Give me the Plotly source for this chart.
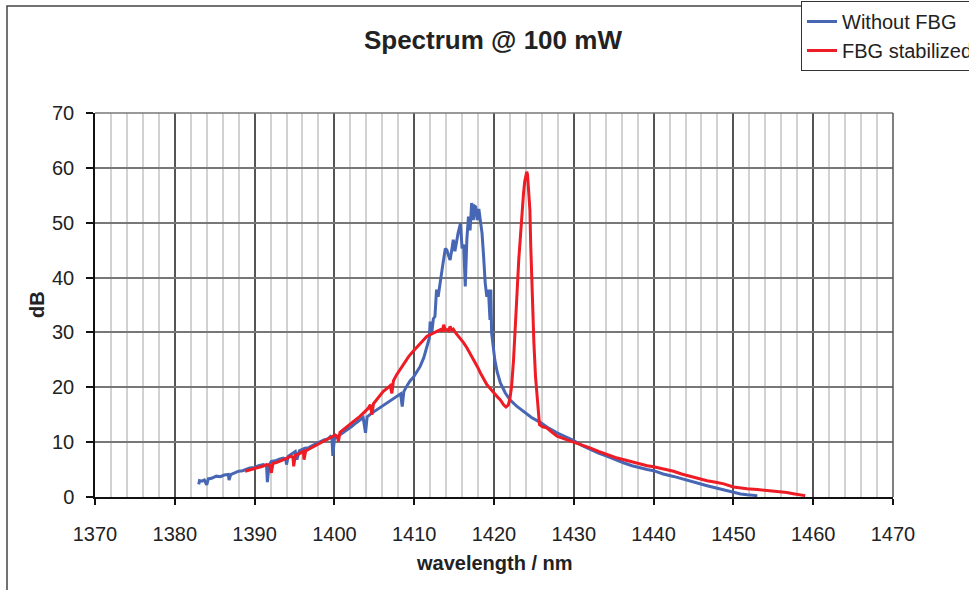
import plotly.graph_objects as go

# Emission spectrum at 100 mW, free-running vs. FBG-stabilized
blue_wl = [1383.0, 1383.1, 1383.4, 1383.7, 1384.0, 1384.2, 1384.6, 1385.2, 1385.7, 1386.2,
           1386.7, 1386.8, 1387.0, 1387.5, 1388.0, 1388.5, 1389.0, 1389.4, 1390.0, 1390.5,
           1391.1, 1391.5, 1391.6, 1391.8, 1392.1, 1392.6, 1393.1, 1393.6, 1393.9, 1394.0,
           1394.2, 1394.6, 1395.1, 1395.3, 1395.6, 1396.3, 1396.8, 1397.3, 1397.8, 1398.2,
           1398.7, 1399.2, 1399.5, 1399.7, 1399.8, 1400.0, 1400.4, 1401.0, 1401.6, 1402.2,
           1402.7, 1403.2, 1403.6, 1403.9, 1404.1, 1404.6, 1405.1, 1405.7, 1406.3, 1406.9,
           1407.4, 1407.9, 1408.3, 1408.5, 1408.7, 1409.1, 1409.5, 1409.9, 1410.3, 1410.75,
           1411.2, 1411.6, 1411.9, 1412.0, 1412.2, 1412.4, 1412.6, 1412.8, 1413.0, 1413.2,
           1413.4, 1413.6, 1413.9, 1414.1, 1414.3, 1414.5, 1414.7, 1414.9, 1415.1, 1415.3,
           1415.5, 1415.8, 1416.0, 1416.2, 1416.4, 1416.6, 1416.8, 1417.0, 1417.2, 1417.4,
           1417.6, 1417.7, 1417.9, 1418.1, 1418.3, 1418.5, 1418.7, 1418.9, 1419.1, 1419.3,
           1419.5, 1419.6, 1419.7, 1419.9, 1420.1, 1420.4, 1420.8, 1421.4, 1422.0, 1422.8,
           1423.7, 1424.7, 1425.8, 1426.8, 1427.9, 1429.0, 1430.0, 1431.0, 1432.1, 1433.1,
           1434.2, 1435.2, 1436.3, 1437.3, 1438.3, 1439.2, 1440.0, 1441.2, 1442.5, 1443.5,
           1444.6, 1445.7, 1446.7, 1447.8, 1448.8, 1450.0, 1450.9, 1451.7, 1452.5, 1453.0]
blue_db = [2.3, 3.0, 2.9, 3.1, 2.2, 3.3, 3.4, 3.8, 3.7, 4.0,
           4.1, 3.1, 4.1, 4.4, 4.7, 4.8, 5.1, 5.3, 5.4, 5.7,
           5.9, 5.6, 2.7, 5.8, 6.5, 6.6, 6.9, 7.1, 6.9, 5.9,
           7.4, 7.8, 8.3, 6.8, 8.4, 8.9, 9.0, 9.4, 9.8, 10.1,
           10.4, 10.6, 11.0, 10.5, 7.5, 10.6, 11.0, 11.6, 12.3, 12.9,
           13.5, 14.1, 14.5, 11.7, 14.6, 15.2, 15.7, 16.2, 16.8, 17.4,
           18.0, 18.4, 18.8, 16.5, 19.2, 20.3, 21.2, 21.8, 22.8, 23.8,
           25.4, 27.4, 29.0, 32.0, 29.9, 32.5, 32.9, 37.8, 36.5, 38.5,
           40.2, 42.5, 45.3, 45.0, 44.0, 43.2, 45.0, 46.9, 44.8, 46.5,
           48.1, 49.9, 45.3, 46.0, 38.4, 47.0, 51.1, 48.6, 53.6, 50.5,
           53.0, 52.9, 50.5, 52.5, 49.9, 48.1, 43.8, 39.0, 36.5, 37.8,
           32.3, 37.8, 29.9, 27.5, 25.0, 22.8, 20.8, 19.0, 17.7, 16.6,
           15.6, 14.5, 13.6, 12.6, 11.7, 10.9, 10.3, 9.4, 8.6, 8.0,
           7.4, 6.8, 6.2, 5.7, 5.3, 5.0, 4.8, 4.2, 3.75, 3.3,
           2.85, 2.45, 2.06, 1.65, 1.3, 0.85, 0.55, 0.4, 0.3, 0.25]

red_wl = [1388.8, 1389.3, 1389.9, 1390.5, 1391.0, 1391.5, 1391.9, 1392.1, 1392.3, 1392.8,
          1393.2, 1393.8, 1394.5, 1394.8, 1394.9, 1395.1, 1395.6, 1396.1, 1396.2, 1396.4,
          1396.9, 1397.4, 1398.0, 1398.5, 1399.0, 1399.5, 1400.1, 1400.4, 1400.5, 1400.7,
          1401.1, 1401.6, 1402.1, 1402.6, 1403.2, 1403.7, 1404.2, 1404.5, 1404.7, 1404.9,
          1405.3, 1405.7, 1406.1, 1406.6, 1407.0, 1407.2, 1407.4, 1407.8, 1408.3, 1408.8,
          1409.3, 1409.9, 1410.4, 1410.75, 1411.2, 1411.6, 1412.0, 1412.4, 1412.9, 1413.3,
          1413.5, 1413.7, 1413.9, 1414.1, 1414.3, 1414.5, 1414.7, 1414.9, 1415.2, 1415.5,
          1415.8, 1416.2, 1416.6, 1417.0, 1417.4, 1417.9, 1418.3, 1418.7, 1419.1, 1419.5,
          1420.0, 1420.4, 1420.8, 1421.2, 1421.5, 1421.8, 1422.0, 1422.2, 1422.45, 1422.7,
          1422.9, 1423.1, 1423.3, 1423.5, 1423.7, 1423.85, 1424.0, 1424.1, 1424.2, 1424.35,
          1424.5, 1424.6, 1424.7, 1424.85, 1425.0, 1425.2, 1425.4, 1425.55, 1425.7, 1426.1,
          1426.6, 1427.2, 1427.9, 1429.0, 1430.0, 1431.0, 1432.1, 1433.1, 1434.2, 1435.2,
          1436.3, 1437.3, 1438.3, 1439.2, 1440.0, 1441.2, 1442.5, 1443.5, 1444.6, 1445.7,
          1446.7, 1447.8, 1448.8, 1450.0, 1450.8, 1451.7, 1453.0, 1454.2, 1455.0, 1455.8,
          1456.7, 1457.5, 1458.3, 1459.0]
red_db = [4.7, 4.9, 5.1, 5.4, 5.6, 5.9, 5.8, 4.4, 6.1, 6.3,
          6.5, 6.9, 7.4, 7.3, 5.6, 7.6, 7.9, 8.3, 6.8, 8.4,
          8.8, 9.2, 9.7, 10.0, 10.4, 10.8, 11.3, 11.0, 10.1, 11.8,
          12.3, 12.9, 13.5, 14.0, 14.7, 15.4, 16.1, 16.8, 15.0, 17.0,
          17.8, 18.6, 19.2, 19.8, 20.3, 18.9, 21.2, 22.3, 23.4, 24.5,
          25.6, 26.6, 27.4, 27.9, 28.7, 29.3, 29.6, 29.9, 30.2, 30.5,
          30.2, 31.4, 30.4, 30.5, 30.3, 31.1, 30.4, 30.6, 29.9, 29.4,
          28.8, 28.1, 27.2, 26.2, 25.0, 23.8, 22.6, 21.4, 20.5, 19.8,
          18.9, 18.3, 17.7, 16.8, 16.4, 16.8, 18.0, 20.1, 25.0, 31.1,
          37.5, 43.2, 48.0, 52.3, 55.4, 57.5, 59.0, 59.3, 58.8, 56.0,
          52.3, 46.0, 40.2, 34.0, 28.1, 22.0, 17.7, 15.0, 13.2, 12.8,
          12.6, 11.9, 11.1, 10.5, 10.0, 9.4, 8.9, 8.3, 7.7, 7.2,
          6.8, 6.4, 6.0, 5.7, 5.5, 5.1, 4.7, 4.2, 3.75, 3.35,
          2.97, 2.7, 2.4, 1.82, 1.65, 1.5, 1.35, 1.2, 1.1, 0.97,
          0.8, 0.6, 0.45, 0.25]

x_ticks = [1370, 1380, 1390, 1400, 1410, 1420, 1430, 1440, 1450, 1460, 1470]
y_ticks = [0, 10, 20, 30, 40, 50, 60, 70]

FONT = "Liberation Sans, Arial, sans-serif"
TXT = "#222222"

fig = go.Figure()
fig.add_trace(go.Scatter(x=blue_wl, y=blue_db, mode="lines", name="Without FBG",
                         line=dict(color="#4766b4", width=3)))
fig.add_trace(go.Scatter(x=red_wl, y=red_db, mode="lines", name="FBG stabilized",
                         line=dict(color="#ee1c25", width=3)))

fig.update_layout(
    width=969, height=590,
    margin=dict(l=95, r=76, t=113, b=93, autoexpand=False),
    paper_bgcolor="white", plot_bgcolor="white",
    font=dict(family=FONT, size=20, color=TXT),
    title=dict(text="<b>Spectrum @ 100 mW</b>", x=0.5087, xanchor="center",
               y=1 - 40 / 590, yanchor="middle", font=dict(size=26, color=TXT)),
    showlegend=True,
    legend=dict(x=(801 - 95) / 798, y=(497 - 1) / 384, xanchor="left", yanchor="top",
                bordercolor="#333333", borderwidth=1, bgcolor="white",
                font=dict(size=20, color=TXT), itemwidth=30, tracegroupgap=0),
    xaxis=dict(range=[1370, 1470], tickmode="array", tickvals=x_ticks,
               showline=True, linecolor="#111111", linewidth=1.5,
               ticks="outside", ticklen=6, tickcolor="#111111", tickwidth=1.5,
               showgrid=True, gridcolor="#555555", gridwidth=1.5, zeroline=False,
               minor=dict(dtick=2, showgrid=True, gridcolor="#d2d2d2", gridwidth=1.5),
               tickfont=dict(size=20, color=TXT), ticklabelstandoff=12),
    yaxis=dict(range=[0, 70], tickmode="array", tickvals=y_ticks,
               showline=True, linecolor="#111111", linewidth=1.5,
               ticks="outside", ticklen=7, tickcolor="#111111", tickwidth=1.5,
               showgrid=True, gridcolor="#777777", gridwidth=1.5, zeroline=False,
               tickfont=dict(size=20, color=TXT), ticklabelstandoff=8),
    annotations=[
        dict(text="<b>wavelength / nm</b>", xref="paper", yref="paper",
             x=0.5, y=(497 - 563) / 384, xanchor="center", yanchor="middle",
             showarrow=False, font=dict(size=20, color=TXT)),
        dict(text="<b>dB</b>", xref="paper", yref="paper",
             x=(37 - 95) / 798, y=(497 - 305) / 384, xanchor="center", yanchor="middle",
             textangle=-90, showarrow=False, font=dict(size=20, color=TXT)),
    ],
    shapes=[
        # outer chart frame
        dict(type="rect", xref="paper", yref="paper",
             x0=(7 - 95) / 798, x1=1.3, y0=-0.5, y1=(497 - 6) / 384,
             line=dict(color="#444444", width=1.5), layer="below"),
        # plot area top and right edges
        dict(type="line", xref="paper", yref="paper", x0=0, x1=1, y0=1, y1=1,
             line=dict(color="#777777", width=1.5)),
        dict(type="line", xref="paper", yref="paper", x0=1, x1=1, y0=0, y1=1,
             line=dict(color="#555555", width=1.5)),
    ],
)

fig.write_html("out.html")
